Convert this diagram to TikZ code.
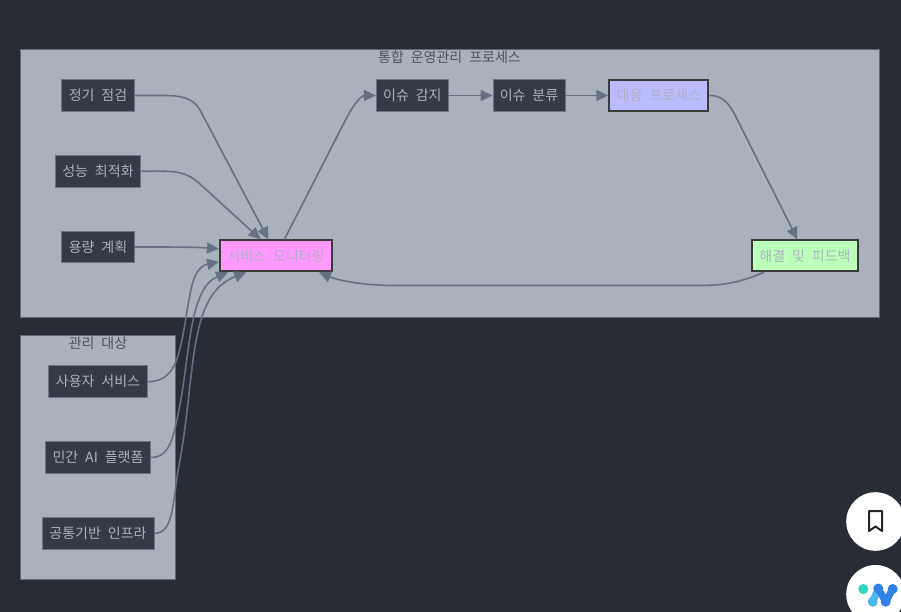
\documentclass[tikz,border=0pt]{standalone}
\usepackage{fontspec}
\setmainfont[WordSpace=2.2]{Noto Sans CJK KR}
\usetikzlibrary{arrows.meta}
\definecolor{pagebg}{HTML}{282C34}
\definecolor{groupfill}{HTML}{A9B1BD}
\definecolor{groupline}{HTML}{5F6778}
\definecolor{boxfill}{HTML}{343A46}
\definecolor{boxline}{HTML}{6B7488}
\definecolor{boxtext}{HTML}{ABB2BF}
\definecolor{edgeline}{HTML}{667085}
\definecolor{titletext}{HTML}{4B5260}
\definecolor{markline}{HTML}{3A3A3A}
\definecolor{logoteal}{HTML}{2DD4BF}
\definecolor{logosky}{HTML}{4CB8F0}
\definecolor{logoblue}{HTML}{3082E8}

\begin{document}
\begin{tikzpicture}
      [
        x=1pt,y=-1pt,
        every node/.style={font=\fontsize{14}{16}\selectfont,inner sep=0pt},
        group/.style={draw=groupline,fill=groupfill,line width=1pt},
        title/.style={text=titletext},
        opbox/.style={draw=boxline,fill=boxfill,text=boxtext,line width=1pt,minimum height=31.5pt},
        markbox/.style={draw=markline,text=boxtext,line width=2pt,minimum height=31pt},
        edge/.style={draw=edgeline,line width=1.6pt,-{Triangle[length=12pt,width=11pt]}}
      ]
      \useasboundingbox (0,0) rectangle (901,612);
      \fill [pagebg] (0,0) rectangle (901,612);
      % groups
      \node [group,minimum width=859pt,minimum height=267.5pt] (process) at (449.75,183.5) {};
      \node [group,minimum width=155.5pt,minimum height=244.5pt] (target) at (98,457.5) {};
      \node [title] (processlabel) at (449.5,57) {통합 운영관리 프로세스};
      \node [title] (targetlabel) at (98,343) {관리 대상};
      % process boxes
      \node [opbox,minimum width=72.5pt] (check) at (98,95.5) {정기 점검};
      \node [opbox,minimum width=85.5pt] (tune) at (98,171.3) {성능 최적화};
      \node [opbox,minimum width=72.5pt] (plan) at (98,247) {용량 계획};
      \node [markbox,fill={rgb,255:red,255;green,153;blue,255},minimum width=112pt] (monitor) at (276,255.8) {서비스 모니터링};
      \node [opbox,minimum width=72pt] (detect) at (412.4,95.5) {이슈 감지};
      \node [opbox,minimum width=72pt] (classify) at (529,95.5) {이슈 분류};
      \node [markbox,fill={rgb,255:red,187;green,187;blue,255},minimum width=99pt] (respond) at (658.8,95.5) {대응 프로세스};
      \node [markbox,fill={rgb,255:red,187;green,255;blue,187},minimum width=105.5pt] (resolve) at (805,255.8) {해결 및 피드백};
      % target boxes
      \node [opbox,minimum width=98.5pt] (user) at (98,381.7) {사용자 서비스};
      \node [opbox,minimum width=105pt] (private) at (98,457.5) {민간 AI 플랫폼};
      \node [opbox,minimum width=112pt] (infra) at (98,533.3) {공통기반 인프라};
      % edges
      \draw [edge] (check.east) -- (165,95.5) .. controls (178,95.5) and (193,97) .. (200,110) -- (monitor.115);
      \draw [edge] (tune.east) .. controls (170,171.3) and (184,169) .. (200,184) -- (monitor.133);
      \draw [edge] (plan.east) .. controls (170,247) and (195,247) .. (monitor.173);
      \draw [edge] (user.east) .. controls (172,381.7) and (177,362) .. (182,340) .. controls (190,300) and (190,268) .. (monitor.186);
      \draw [edge] (private.east) .. controls (172,457.5) and (174,432) .. (180,405) .. controls (190,350) and (190,288) .. (monitor.199);
      \draw [edge] (infra.east) .. controls (175,533.3) and (172,500) .. (180,460) .. controls (196,370) and (188,295) .. (monitor.209.5);
      \draw [edge] (monitor.63) -- (347,117) .. controls (355,102) and (362,95.5) .. (detect.west);
      \draw [edge] (detect.east) -- (classify.west);
      \draw [edge] (classify.east) -- (respond.west);
      \draw [edge] (respond.east) .. controls (722,95.5) and (728,102) .. (735,115) -- (resolve.115);
      \draw [edge] (resolve.202) .. controls (745,280) and (730,285.5) .. (700,285.5) -- (395,285.5) .. controls (365,285.5) and (340,281) .. (monitor.339.5);
      % buttons
      \fill [white] (875.5,521.5) circle (29.3);
      \draw [black!85,line width=2pt,line join=round] (869,511) -- (882,511) -- (882,531) -- (875.5,526.5) -- (869,531) -- cycle;
      \fill [white] (875.5,594.3) circle (29.3);
      \draw [logosky,line width=7pt] (878.3,588.5) -- (872.7,601.7);
      \draw [logoblue,line width=7pt] (878.3,588.5) -- (885.7,601.7);
      \draw [logoblue,line width=7pt] (885.7,601.7) -- (892.7,589);
      \foreach \x/\y/\c in {878.3/588.5/logoblue,892.7/589/logoblue,885.7/601.7/logoblue,872.7/601.7/logosky,863.3/589/logoteal} {
          \fill [\c] (\x,\y) circle (5);
      }
      \end{tikzpicture}
\end{document}
